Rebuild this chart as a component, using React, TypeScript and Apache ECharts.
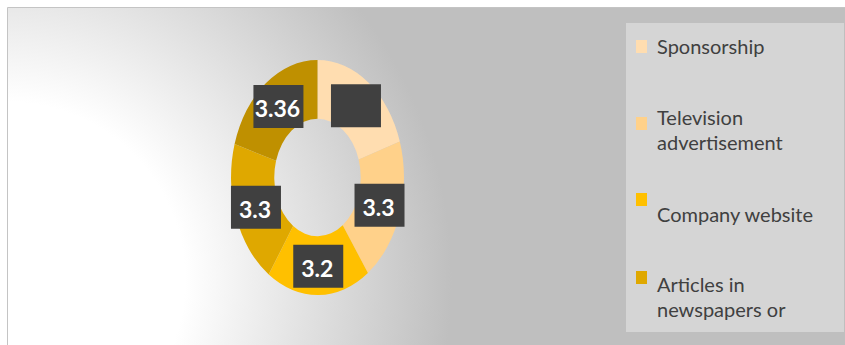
import React, { useEffect, useRef } from "react";
import * as echarts from "echarts";

// ---- data ----
const categories = [
  "Sponsorship",
  "Television advertisement",
  "Company website",
  "Articles in newspapers or magazines",
  "Other",
];
const values = [3.3, 3.3, 3.2, 3.3, 3.36];
const labelShown = [false, true, true, true, true];
const legendTexts = ["Sponsorship", "Television\nadvertisement", "Company website", "Articles in\nnewspapers or"];
const colors = ["#FFDDB0", "#FFD18A", "#FFC000", "#DFA800", "#BF9000"];

// ---- layout ----
const CX = 317.5;
const CY = 177.5;
const RX = 86.5;
const RY = 117.5;
const INNER = 0.5;
const LABEL_R = 0.755;
const BOX_W = 50;
const BOX_H = 43;

const total = values.reduce((a, b) => a + b, 0);
const starts: number[] = [];
{
  let acc = 0;
  for (const v of values) {
    starts.push(acc);
    acc += v;
  }
}

export default function App() {
  const ref = useRef<HTMLDivElement>(null);
  useEffect(() => {
    if (!ref.current) return;
    const chart = echarts.init(ref.current, null, { renderer: "svg" });

    const legendTops = [33.5, 104, 201.5, 271.5];
    const markerTops = [40, 117, 193, 271];
    const legendGraphics: any[] = [];
    legendTexts.forEach((t, i) => {
      legendGraphics.push({
        type: "rect",
        shape: { x: 636, y: markerTops[i], width: 11, height: 13 },
        style: { fill: colors[i] },
        z: 3,
      });
      legendGraphics.push({
        type: "text",
        x: 657,
        y: legendTops[i],
        style: {
          text: t,
          fill: "#404040",
          font: "20px Lato",
          lineHeight: 25,
          align: "left",
          verticalAlign: "top",
        },
        z: 3,
      });
    });

    const option: any = {
      animation: false,
      graphic: [
        {
          type: "rect",
          shape: { x: 7.5, y: 7.5, width: 845, height: 345 },
          style: {
            fill: new echarts.graphic.RadialGradient(
              7,
              280,
              445,
              [
                { offset: 0, color: "#ffffff" },
                { offset: 0.4, color: "#ffffff" },
                { offset: 1, color: "#bfbfbf" },
              ],
              true
            ),
            stroke: "#c4c4c4",
            lineWidth: 1,
          },
          z: -10,
        },
        {
          type: "rect",
          shape: { x: 626, y: 23, width: 218, height: 309 },
          style: { fill: "#d5d5d5" },
          z: 2,
        },
        ...legendGraphics,
      ],
      series: [
        {
          type: "custom",
          coordinateSystem: "none",
          data: values.map((v, i) => ({ name: categories[i], value: [v, i] })),
          renderItem: (params: any, api: any) => {
            const i = api.value(1);
            const v = api.value(0);
            const a0 = -Math.PI / 2 + (starts[i] / total) * Math.PI * 2;
            const a1 = -Math.PI / 2 + ((starts[i] + v) / total) * Math.PI * 2;
            const mid = (a0 + a1) / 2;
            const lx = CX + Math.cos(mid) * RX * LABEL_R;
            const ly = CY + Math.sin(mid) * RY * LABEL_R;
            return {
              type: "group",
              children: [
                {
                  type: "sector",
                  x: CX,
                  y: CY,
                  scaleX: RX / RY,
                  shape: {
                    cx: 0,
                    cy: 0,
                    r: RY,
                    r0: RY * INNER,
                    startAngle: a0,
                    endAngle: a1,
                    clockwise: true,
                  },
                  style: { fill: colors[i] },
                },
                {
                  type: "rect",
                  shape: { x: lx - BOX_W / 2, y: ly - BOX_H / 2, width: BOX_W, height: BOX_H },
                  style: { fill: "#404040" },
                  z2: 10,
                },
                {
                  type: "text",
                  x: lx - 1,
                  y: ly + 2,
                  style: {
                    text: labelShown[i] ? String(v) : "",
                    fill: "#ffffff",
                    font: "bold 23px Lato",
                    align: "center",
                    verticalAlign: "middle",
                  },
                  z2: 11,
                },
              ],
            };
          },
        },
      ],
    };
    chart.setOption(option);
    return () => chart.dispose();
  }, []);

  return (
    <div
      ref={ref}
      style={{ position: "fixed", left: 0, top: 0, width: 845, height: 345, background: "#ffffff" }}
    />
  );
}
